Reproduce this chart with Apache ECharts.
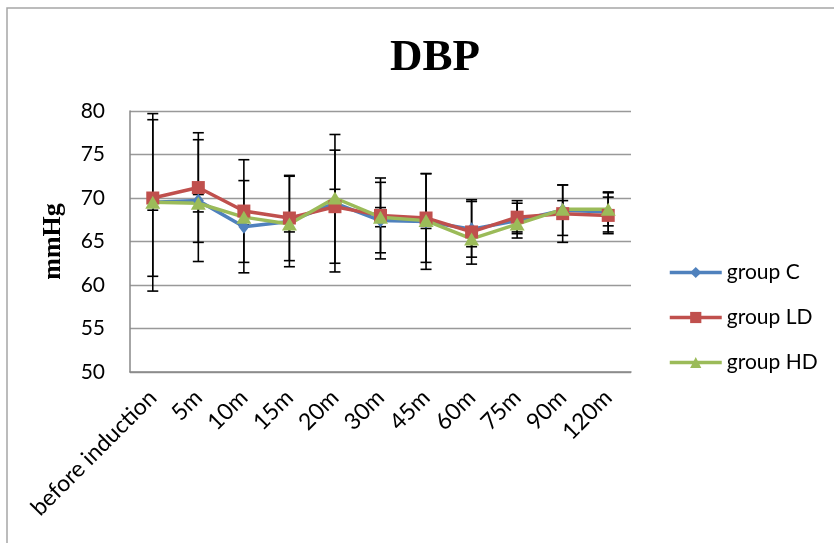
<!DOCTYPE html>
<html>
<head>
<meta charset="utf-8">
<script src="https://cdn.jsdelivr.net/npm/echarts@6/dist/echarts.min.js"></script>
<style>html,body{margin:0;padding:0;background:#fff}#c{width:834px;height:543px}</style>
</head>
<body>
<div id="c"></div>
<script>
var categories = ['before induction','5m','10m','15m','20m','30m','45m','60m','75m','90m','120m'];
var yTicks = [50, 55, 60, 65, 70, 75, 80];
var groupC  = [69.5, 69.7, 66.7, 67.3, 69.4, 67.4, 67.3, 66.4, 67.4, 68.6, 68.4];
var groupLD = [70.0, 71.2, 68.5, 67.7, 69.0, 68.0, 67.7, 66.1, 67.8, 68.2, 68.0];
var groupHD = [69.5, 69.4, 67.8, 67.0, 70.0, 67.8, 67.4, 65.3, 67.0, 68.7, 68.7];
var sdC  = [10.2, 7.0, 5.3, 5.2, 7.9, 4.4, 5.5, 3.2, 2.0, 2.9, 2.3];
var sdLD = [9.0, 6.3, 5.9, 4.9, 6.5, 4.3, 5.1, 3.7, 1.9, 3.3, 2.1];
var sdHD = [0.9, 1.0, 0.9, 0.9, 1.0, 1.1, 0.9, 0.9, 0.9, 1.0, 1.9];

var colors = {C:'#4F81BD', LD:'#C0504D', HD:'#9BBB59'};
var tickFont = 'Lato, "Liberation Sans", sans-serif';
var serifFont = '"Liberation Serif", "Times New Roman", serif';

function errData(mean, sd){
  return mean.map(function(m,i){ return [i, m - sd[i], m + sd[i]]; });
}
function renderErr(params, api){
  var x = api.value(0);
  var lo = api.coord([x, api.value(1)]);
  var hi = api.coord([x, api.value(2)]);
  var hw = 5.5;
  var st = {stroke:'#000', lineWidth:1.6};
  return {type:'group', children:[
    {type:'line', shape:{x1:lo[0], y1:lo[1], x2:hi[0], y2:hi[1]}, style:st},
    {type:'line', shape:{x1:lo[0]-hw, y1:lo[1], x2:lo[0]+hw, y2:lo[1]}, style:st},
    {type:'line', shape:{x1:hi[0]-hw, y1:hi[1], x2:hi[0]+hw, y2:hi[1]}, style:st}
  ]};
}
function errSeries(mean, sd){
  return {type:'custom', renderItem:renderErr, data:errData(mean, sd), encode:{x:0, y:[1,2]}, z:1, silent:true, tooltip:{show:false}};
}
function lineSeries(name, data, color, symbol, size){
  return {name:name, type:'line', data:data, symbol:symbol, symbolSize:size, z:3,
    lineStyle:{color:color, width:3.5}, itemStyle:{color:color}, animation:false};
}

var chart = echarts.init(document.getElementById('c'));
chart.setOption({
  animation:false,
  title:{text:'DBP', left:385, top:31, textStyle:{fontFamily:serifFont, fontWeight:'bold', fontSize:45, color:'#000'}},
  graphic:[{type:'rect', shape:{x:7, y:8, width:1000, height:1000}, style:{fill:'none', stroke:'#a6a6a6', lineWidth:1.5}, silent:true}],
  legend:{orient:'vertical', left:668, top:262, padding:0, itemWidth:52, itemHeight:14, itemGap:24,
    lineStyle:{width:3.5},
    textStyle:{fontFamily:tickFont, fontSize:21, color:'#000', lineHeight:20},
    data:['group C','group LD','group HD']},
  grid:{left:130, right:203, top:111, bottom:171, containLabel:false},
  xAxis:{type:'category', data:categories, boundaryGap:true,
    axisLine:{show:true, lineStyle:{color:'#888', width:1.5}}, axisTick:{show:false},
    axisLabel:{rotate:45, interval:0, margin:22, fontFamily:tickFont, fontSize:23, color:'#000'}},
  yAxis:{type:'value', min:yTicks[0], max:yTicks[yTicks.length-1], interval:5,
    name:'mmHg', nameLocation:'middle', nameRotate:90, nameGap:64,
    nameTextStyle:{fontFamily:serifFont, fontWeight:'bold', fontSize:26, color:'#000'},
    axisLine:{show:true, lineStyle:{color:'#888', width:1.5}}, axisTick:{show:false},
    splitLine:{lineStyle:{color:'#999', width:1.3}},
    axisLabel:{margin:25, fontFamily:tickFont, fontSize:21, color:'#000'}},
  series:[
    errSeries(groupC, sdC), errSeries(groupLD, sdLD), errSeries(groupHD, sdHD),
    lineSeries('group C', groupC, colors.C, 'diamond', [11,14]),
    lineSeries('group LD', groupLD, colors.LD, 'rect', 13),
    lineSeries('group HD', groupHD, colors.HD, 'triangle', [15,13])
  ]
});
</script>
</body>
</html>
